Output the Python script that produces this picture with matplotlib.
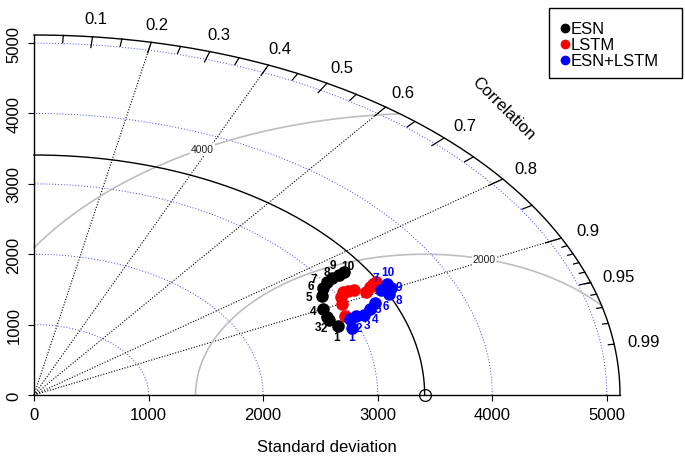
import numpy as np
import matplotlib
matplotlib.use("Agg")
import matplotlib.pyplot as plt
from matplotlib.patches import Rectangle
from matplotlib.lines import Line2D

plt.rcParams['font.family'] = ['Liberation Sans', 'DejaVu Sans']

# ---- data ----
ref_sd = 3410
series_names = ["ESN", "LSTM", "ESN+LSTM"]
series_colors = ["black", "red", "blue"]

esn_sd = [2830, 2786, 2782, 2806, 2886, 2946, 3015, 3082, 3159, 3221]
esn_cor = [0.938, 0.925, 0.918, 0.900, 0.872, 0.857, 0.847, 0.843, 0.843, 0.841]

lstm_sd = [2936, 2981, 3015, 3069, 3119, 3165, 3244, 3308, 3356, 3387]
lstm_cor = [0.924, 0.901, 0.888, 0.880, 0.880, 0.883, 0.893, 0.886, 0.882, 0.881]

hyb_sd = [2930, 2962, 3030, 3096, 3177, 3251, 3376, 3417, 3462, 3464]
hyb_cor = [0.946, 0.931, 0.929, 0.930, 0.923, 0.915, 0.897, 0.907, 0.899, 0.890]

point_labels = [str(i) for i in range(1, 11)]

sd_ticks = [0, 1000, 2000, 3000, 4000, 5000]
cor_labels = [0.1, 0.2, 0.3, 0.4, 0.5, 0.6, 0.7, 0.8, 0.9, 0.95, 0.99]
cor_rays = [0.2, 0.4, 0.6, 0.8, 0.9]
rms_levels = [2000, 4000]

# ---- layout ----
W, H = 685, 460
fig = plt.figure(figsize=(W / 100, H / 100), dpi=100)
ax = fig.add_axes([34 / W, 64 / H, 586 / W, 360 / H])
maxsd = 1.5 * ref_sd
ax.set_xlim(0, maxsd)
ax.set_ylim(0, maxsd)
for s in ["top", "right"]:
    ax.spines[s].set_visible(False)
for s in ["left", "bottom"]:
    ax.spines[s].set_linewidth(1.0)
ax.set_xticks(sd_ticks)
ax.set_yticks(sd_ticks)
ax.set_xticklabels([str(t) for t in sd_ticks], fontsize=12)
ax.set_yticklabels([str(t) for t in sd_ticks], fontsize=12, rotation=90, va="center")
ax.tick_params(direction="out", length=4, width=0.8, pad=5)
ax.set_xlabel("Standard deviation", fontsize=12, labelpad=12)
ax.patch.set_visible(False)

th = np.linspace(0, np.pi / 2, 400)

# blue dotted sd arcs
for r in [1000, 2000, 3000, 4000, 5000]:
    ax.plot(r * np.cos(th), r * np.sin(th), color="blue", lw=0.7,
            ls=(0, (1, 2)), alpha=0.75, clip_on=False)

# correlation rays
for c in cor_rays:
    a = np.arccos(c)
    ax.plot([0, maxsd * np.cos(a)], [0, maxsd * np.sin(a)], color="black",
            lw=0.8, ls=(0, (1, 1.5)), clip_on=False)

# rms contours
tt = np.linspace(0, np.pi, 800)
for r in rms_levels:
    x = ref_sd + r * np.cos(tt)
    y = r * np.sin(tt)
    m = (x >= 0) & (np.hypot(x, y) <= maxsd)
    x = np.where(m, x, np.nan)
    y = np.where(m, y, np.nan)
    ax.plot(x, y, color="#bebebe", lw=1.2, clip_on=False)
lab_ang = {2000: np.radians(75), 4000: np.radians(119)}
for r in rms_levels:
    a = lab_ang[r]
    ax.text(ref_sd + r * np.cos(a), r * np.sin(a), str(r), fontsize=7.5,
            ha="center", va="center", color="#222222",
            bbox=dict(facecolor="white", edgecolor="none", pad=0.5))

# outer arc and reference arc
ax.plot(maxsd * np.cos(th), maxsd * np.sin(th), color="black", lw=1.0, clip_on=False)
ax.plot(ref_sd * np.cos(th), ref_sd * np.sin(th), color="black", lw=1.0, clip_on=False)

# ticks on outer arc
def tick(c, frac):
    a = np.arccos(c)
    ax.plot([maxsd * np.cos(a), frac * maxsd * np.cos(a)],
            [maxsd * np.sin(a), frac * maxsd * np.sin(a)],
            color="black", lw=0.9, clip_on=False)

for c in np.arange(0.1, 0.91, 0.1):
    tick(c, 0.97)
for c in np.arange(0.05, 0.96, 0.1):
    tick(c, 0.98)
for c in np.arange(0.91, 0.995, 0.01):
    tick(c, 0.99)

for c in cor_labels:
    a = np.arccos(c)
    ax.text(1.05 * maxsd * np.cos(a), 1.05 * maxsd * np.sin(a), str(c),
            fontsize=12, ha="center", va="center", clip_on=False)

ax.text(4098, 4074, "Correlation", rotation=-45, fontsize=12,
        ha="center", va="center", rotation_mode="anchor")

# reference point
ax.plot([ref_sd], [0], marker="o", ms=8.5, mfc="none", mec="black",
        mew=0.9, clip_on=False, zorder=6)

# ---- points ----
esn_off = [(-1.7, 11), (-5.3, 7.7), (-8.3, 10), (-10, 1.7), (-13, 1.7),
           (-12.7, -2), (-12.5, -2.8), (-5.2, -6.5), (-6, -10), (4, -6)]
hyb_off = [(0, 9), (9, 9.3), (10.7, 8.7), (11, 4), (8.3, 0), (11, 3.3),
           (-5, -12), (10, 6), (8, -1), (1, -12)]

def draw(sd, cor, color, offs):
    sd = np.asarray(sd, float)
    cor = np.asarray(cor, float)
    x = sd * cor
    y = sd * np.sin(np.arccos(cor))
    ax.scatter(x, y, s=82, color=color, zorder=5, linewidths=0)
    if offs is not None:
        for xi, yi, lab, (dx, dy) in zip(x, y, point_labels, offs):
            ax.annotate(lab, (xi, yi), xytext=(dx * 0.72, -dy * 0.72),
                        textcoords="offset points", fontsize=8.5,
                        fontweight="bold", color=color, ha="center",
                        va="center", zorder=7)

draw(esn_sd, esn_cor, "black", esn_off)
draw(lstm_sd, lstm_cor, "red", None)
draw(hyb_sd, hyb_cor, "blue", hyb_off)

# ---- legend ----
fig.add_artist(Rectangle((549 / W, 1 - 79 / H), 133 / W, 70 / H,
                         transform=fig.transFigure, facecolor="white",
                         edgecolor="black", lw=1.0))
for i, (name, col) in enumerate(zip(series_names, series_colors)):
    yy = 1 - (29 + 16 * i) / H
    fig.add_artist(Line2D([565 / W], [yy], marker="o", ms=6, color=col,
                          transform=fig.transFigure, ls="none"))
    fig.text(571 / W, yy, name, fontsize=12, va="center", ha="left")

fig.savefig("out.png", dpi=100)
